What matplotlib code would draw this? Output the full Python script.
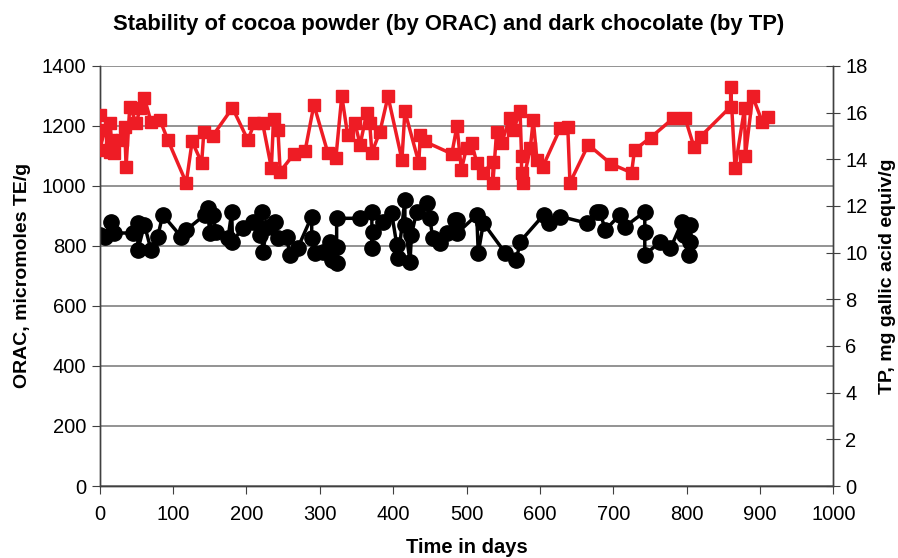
import numpy as np
import matplotlib
matplotlib.use("Agg")
import matplotlib.pyplot as plt

# dark chocolate, total polyphenols (mg gallic acid equiv/g) - right axis
tp_days = [0, 0, 7, 14, 16, 14, 20, 30, 34, 36, 41, 50, 55, 61, 70, 82, 93,
           118, 126, 139, 142, 154, 181, 202, 211, 222, 234, 237, 243, 246,
           265, 280, 292, 311, 322, 330, 338, 348, 355, 364, 368, 371, 382,
           393, 412, 416, 435, 437, 443, 480, 487, 493, 500, 507, 514, 523,
           536, 536, 541, 548, 559, 564, 573, 575, 575, 577, 587, 591, 596,
           604, 628, 638, 641, 666, 697, 725, 729, 751, 782, 798, 810, 819,
           860, 860, 866, 879, 880, 890, 903, 911]
tp_vals = [15.9, 14.4, 15.26, 15.54, 14.82, 14.32, 14.26, 14.82, 15.4, 13.68,
           16.25, 15.54, 16.19, 16.61, 15.61, 15.69, 14.82, 12.99, 14.76,
           13.85, 15.18, 15.0, 16.2, 14.82, 15.56, 15.56, 13.63, 15.72, 15.26,
           13.47, 14.23, 14.36, 16.33, 14.27, 14.07, 16.71, 15.04, 15.54,
           14.62, 15.98, 15.56, 14.28, 15.18, 16.69, 13.98, 16.05, 13.85,
           15.04, 14.76, 14.23, 15.43, 13.54, 14.49, 14.7, 13.85, 13.41, 13.9,
           12.99, 15.18, 14.7, 15.78, 15.26, 16.05, 14.12, 13.41, 12.99,
           14.49, 15.69, 13.98, 13.68, 15.34, 15.4, 12.99, 14.62, 13.8, 13.42,
           14.4, 14.93, 15.76, 15.76, 14.53, 14.97, 16.25, 17.11, 13.62,
           16.19, 14.12, 16.69, 15.61, 15.8]

# cocoa powder ORAC (micromoles TE/g) - left axis
orac_days = [0, 7, 16, 20, 45, 52, 52, 61, 70, 79, 86, 111, 118, 143, 147,
             150, 154, 159, 175, 180, 181, 195, 209, 218, 221, 222, 229, 239,
             243, 255, 259, 270, 289, 289, 293, 304, 314, 316, 323, 323, 323,
             355, 371, 371, 372, 386, 398, 405, 407, 416, 416, 423, 425, 432,
             446, 450, 454, 464, 473, 484, 487, 487, 514, 516, 523, 553, 568,
             573, 605, 612, 628, 664, 678, 682, 689, 709, 716, 743, 743, 743,
             764, 778, 794, 796, 805, 805, 803]
orac_vals = [837, 831, 881, 843, 843, 877, 787, 870, 787, 831, 903, 831, 853,
             903, 927, 843, 903, 848, 827, 914, 814, 860, 881, 837, 914, 781,
             864, 881, 827, 831, 770, 793, 898, 827, 777, 781, 814, 753, 743,
             798, 892, 892, 914, 792, 848, 881, 909, 803, 760, 953, 870, 748,
             837, 914, 942, 892, 826, 809, 842, 887, 887, 842, 903, 776, 876,
             776, 753, 814, 903, 876, 898, 876, 914, 914, 853, 903, 864, 914,
             848, 770, 814, 792, 881, 837, 870, 814, 770]

plt.rcParams['font.family'] = ['Liberation Sans', 'DejaVu Sans']

fig = plt.figure(figsize=(8.98, 5.58), dpi=100)
ax = fig.add_axes([0.111, 0.129, 0.817, 0.753])
ax2 = ax.twinx()

ax.plot(orac_days, orac_vals, color="black", lw=2.5, marker="o",
        markersize=11, zorder=3)
ax2.plot(tp_days, tp_vals, color="#ee1c25", lw=2.5, marker="s",
         markersize=8.5, zorder=3)

ax.set_xlim(0, 1000)
ax.set_ylim(0, 1400)
ax2.set_ylim(0, 18)
ax.set_xticks(np.arange(0, 1001, 100))
ax.set_yticks(np.arange(0, 1401, 200))
ax2.set_yticks(np.arange(0, 19, 2))

ax.yaxis.grid(True, color="#808080", lw=1.2)
ax.set_axisbelow(True)
for a in (ax, ax2):
    a.spines['top'].set_visible(False)
    for s in ('left', 'right', 'bottom'):
        a.spines[s].set_color("#404040")
        a.spines[s].set_linewidth(1)
ax.tick_params(axis='both', labelsize=14.5, length=6, color="#404040")
ax.tick_params(axis='x', pad=8)
ax2.tick_params(axis='y', labelsize=14.5, direction='inout', length=10,
                color="#404040")

ax.set_xlabel("Time in days", fontsize=14.5, fontweight="bold", labelpad=10)
ax.set_ylabel("ORAC, micromoles TE/g", fontsize=14, fontweight="bold",
              labelpad=8)
ax2.set_ylabel("TP, mg gallic acid equiv/g", fontsize=14, fontweight="bold",
               labelpad=8)
fig.suptitle("Stability of cocoa powder (by ORAC) and dark chocolate (by TP)",
             fontsize=15.8, fontweight="bold", y=0.975)

fig.savefig("out.png", dpi=100)
